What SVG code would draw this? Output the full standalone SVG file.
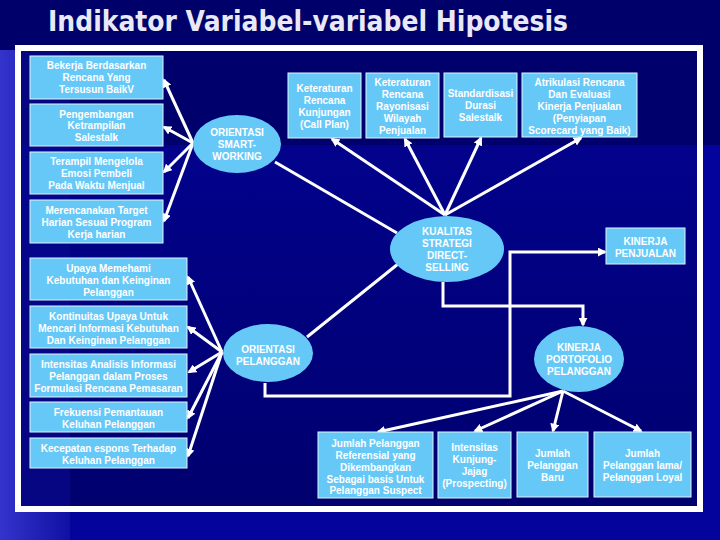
<svg xmlns="http://www.w3.org/2000/svg" width="720" height="540" viewBox="0 0 720 540">
<defs>
<style>
.bx{fill:#66c8f7;stroke:#dff3ff;stroke-width:1}
.el{fill:#66c8f7;stroke:none}
.t{font-family:"Liberation Sans",Arial,sans-serif;font-weight:bold;font-size:10px;fill:#ffffff;text-anchor:middle}
.c{fill:none;stroke:#ffffff;stroke-width:3}
.a{marker-end:url(#ah)}
</style>
<marker id="ah" viewBox="0 0 10 10" refX="8" refY="5" markerWidth="9" markerHeight="9" markerUnits="userSpaceOnUse" orient="auto">
<path d="M0,0 L10,5 L0,10 z" fill="#ffffff"/>
</marker>
<linearGradient id="lb" x1="0" y1="0" x2="1" y2="0">
<stop offset="0" stop-color="#3434cc"/>
<stop offset="1" stop-color="#1010a4"/>
</linearGradient>
<linearGradient id="bt" x1="0" y1="0" x2="0" y2="1">
<stop offset="0" stop-color="#02028c"/>
<stop offset="1" stop-color="#00006e"/>
</linearGradient>
</defs>

<g id="background">
<rect x="0" y="0" width="720" height="540" fill="#00006a"/>
<rect x="0" y="145" width="720" height="395" fill="#04049c"/>
<rect x="0" y="50" width="70" height="490" fill="url(#lb)"/>
<rect x="21" y="51" width="676" height="455" fill="#00006c"/>
<rect x="21" y="145" width="676" height="361" fill="url(#bt)"/>
<rect x="21" y="51" width="49" height="455" fill="#0a0a90" opacity="0.6"/>
<rect x="18" y="48" width="682" height="461" fill="none" stroke="#ffffff" stroke-width="6"/>
</g>

<text x="308" y="31" font-family="Tahoma,'DejaVu Sans','Liberation Sans',sans-serif" font-weight="bold" font-size="28" fill="#e8e8f6" text-anchor="middle" textLength="520" lengthAdjust="spacingAndGlyphs">Indikator Variabel-variabel Hipotesis</text>

<g id="connectors">
<line class="c a" x1="193" y1="143" x2="164" y2="80"/>
<line class="c a" x1="193" y1="143" x2="164" y2="127"/>
<line class="c a" x1="193" y1="143" x2="164" y2="172"/>
<line class="c a" x1="193" y1="143" x2="164" y2="221"/>
<line class="c" x1="275" y1="162" x2="397" y2="233"/>
<line class="c a" x1="445" y1="215" x2="332" y2="139"/>
<line class="c a" x1="445" y1="215" x2="405" y2="139"/>
<line class="c a" x1="445" y1="215" x2="481" y2="138"/>
<line class="c a" x1="445" y1="215" x2="581" y2="138"/>
<polyline class="c a" points="443,282 443,306 583,306 583,325"/>
<polyline class="c a" points="265,383 265,396 510,396 510,252 605,252"/>
<line class="c" x1="307" y1="337" x2="398" y2="264"/>
<line class="c a" x1="222" y1="352" x2="188" y2="277"/>
<line class="c a" x1="222" y1="352" x2="188" y2="327"/>
<line class="c a" x1="222" y1="352" x2="189" y2="372"/>
<line class="c a" x1="222" y1="352" x2="188" y2="418"/>
<line class="c a" x1="222" y1="352" x2="188" y2="456"/>
<line class="c a" x1="563" y1="391" x2="378" y2="432"/>
<line class="c a" x1="563" y1="391" x2="475" y2="431"/>
<line class="c a" x1="563" y1="391" x2="553" y2="431"/>
<line class="c a" x1="563" y1="391" x2="641" y2="431"/>
</g>

<g id="n-bekerja"><rect class="bx" x="30" y="56" width="133" height="43"/>
<text class="t" x="96.5" y="68.5">Bekerja Berdasarkan</text><text class="t" x="96.5" y="80.5">Rencana Yang</text><text class="t" x="96.5" y="92.5">Tersusun BaikV</text></g>
<g id="n-pengembangan"><rect class="bx" x="30" y="104" width="133" height="42"/>
<text class="t" x="96.5" y="117.5">Pengembangan</text><text class="t" x="96.5" y="129">Ketrampilan</text><text class="t" x="96.5" y="140.5">Salestalk</text></g>
<g id="n-terampil"><rect class="bx" x="30" y="152" width="133" height="42"/>
<text class="t" x="96.5" y="164.5">Terampil Mengelola</text><text class="t" x="96.5" y="176.5">Emosi Pembeli</text><text class="t" x="96.5" y="188.5">Pada Waktu Menjual</text></g>
<g id="n-merencanakan"><rect class="bx" x="30" y="200" width="133" height="43"/>
<text class="t" x="96.5" y="213.5">Merencanakan Target</text><text class="t" x="96.5" y="225.5">Harian Sesuai Program</text><text class="t" x="96.5" y="237.5">Kerja harian</text></g>
<g id="n-upaya"><rect class="bx" x="30" y="258" width="157" height="42"/>
<text class="t" x="108.5" y="271.5">Upaya Memehami</text><text class="t" x="108.5" y="283.5">Kebutuhan dan Keinginan</text><text class="t" x="108.5" y="295.5">Pelanggan</text></g>
<g id="n-kontinuitas"><rect class="bx" x="30" y="306" width="157" height="42"/>
<text class="t" x="108.5" y="319.5">Kontinuitas Upaya Untuk</text><text class="t" x="108.5" y="331.5">Mencari Informasi Kebutuhan</text><text class="t" x="108.5" y="343.5">Dan Keinginan Pelanggan</text></g>
<g id="n-intensitas-analisis"><rect class="bx" x="30" y="354" width="157" height="43"/>
<text class="t" x="108.5" y="367.5">Intensitas Analisis Informasi</text><text class="t" x="108.5" y="379.5">Pelanggan dalam Proses</text><text class="t" x="108.5" y="391.5">Formulasi Rencana Pemasaran</text></g>
<g id="n-frekuensi"><rect class="bx" x="30" y="402" width="157" height="30"/>
<text class="t" x="108.5" y="415.5">Frekuensi Pemantauan</text><text class="t" x="108.5" y="427.5">Keluhan Pelanggan</text></g>
<g id="n-kecepatan"><rect class="bx" x="30" y="438" width="157" height="30"/>
<text class="t" x="108.5" y="451.5">Kecepatan espons Terhadap</text><text class="t" x="108.5" y="463.5">Keluhan Pelanggan</text></g>

<g id="n-smart"><ellipse class="el" cx="237" cy="144" rx="44" ry="29"/>
<text class="t" x="237" y="135.5">ORIENTASI</text><text class="t" x="237" y="147.5">SMART-</text><text class="t" x="237" y="159.5">WORKING</text></g>

<g id="n-callplan"><rect class="bx" x="288" y="73" width="73" height="65"/>
<text class="t" x="324.5" y="91.5">Keteraturan</text><text class="t" x="324.5" y="103.5">Rencana</text><text class="t" x="324.5" y="115.5">Kunjungan</text><text class="t" x="324.5" y="127.5">(Call Plan)</text></g>
<g id="n-rayonisasi"><rect class="bx" x="366" y="73" width="73" height="65"/>
<text class="t" x="402.5" y="85.5">Keteraturan</text><text class="t" x="402.5" y="97.5">Rencana</text><text class="t" x="402.5" y="109.5">Rayonisasi</text><text class="t" x="402.5" y="121.5">Wilayah</text><text class="t" x="402.5" y="133.5">Penjualan</text></g>
<g id="n-standardisasi"><rect class="bx" x="444" y="73" width="73" height="64"/>
<text class="t" x="480.5" y="96.5">Standardisasi</text><text class="t" x="480.5" y="108.5">Durasi</text><text class="t" x="480.5" y="120.5">Salestalk</text></g>
<g id="n-atrikulasi"><rect class="bx" x="522" y="73" width="115" height="64"/>
<text class="t" x="579.5" y="85.5">Atrikulasi Rencana</text><text class="t" x="579.5" y="97.5">Dan Evaluasi</text><text class="t" x="579.5" y="109.5">Kinerja Penjualan</text><text class="t" x="579.5" y="121.5">(Penyiapan</text><text class="t" x="579.5" y="133.5">Scorecard yang Baik)</text></g>

<g id="n-kualitas"><ellipse class="el" cx="447" cy="249" rx="57" ry="33"/>
<text class="t" x="447" y="234.5">KUALITAS</text><text class="t" x="447" y="246.5">STRATEGI</text><text class="t" x="447" y="258.5">DIRECT-</text><text class="t" x="447" y="270.5">SELLING</text></g>

<g id="n-kinerja-penjualan"><rect class="bx" x="606" y="228" width="79" height="36"/>
<text class="t" x="645.5" y="244.5">KINERJA</text><text class="t" x="645.5" y="256.5">PENJUALAN</text></g>

<g id="n-orientasi-pelanggan"><ellipse class="el" cx="268" cy="353" rx="45" ry="29"/>
<text class="t" x="268" y="352.5">ORIENTASI</text><text class="t" x="268" y="364.5">PELANGGAN</text></g>

<g id="n-kinerja-portofolio"><ellipse class="el" cx="579" cy="359" rx="45" ry="33"/>
<text class="t" x="579" y="350.5">KINERJA</text><text class="t" x="579" y="362.5">PORTOFOLIO</text><text class="t" x="579" y="374.5">PELANGGAN</text></g>

<g id="n-referensial"><rect class="bx" x="318" y="432" width="115" height="66"/>
<text class="t" x="375.5" y="446.5">Jumlah Pelanggan</text><text class="t" x="375.5" y="458.5">Referensial yang</text><text class="t" x="375.5" y="470.5">Dikembangkan</text><text class="t" x="375.5" y="482.5">Sebagai basis Untuk</text><text class="t" x="375.5" y="494">Pelanggan Suspect</text></g>
<g id="n-prospecting"><rect class="bx" x="438" y="432" width="73" height="66"/>
<text class="t" x="474.5" y="450.5">Intensitas</text><text class="t" x="474.5" y="462.5">Kunjung-</text><text class="t" x="474.5" y="474.5">Jajag</text><text class="t" x="474.5" y="486.5">(Prospecting)</text></g>
<g id="n-baru"><rect class="bx" x="517" y="432" width="71" height="65"/>
<text class="t" x="552.5" y="456.5">Jumlah</text><text class="t" x="552.5" y="468.5">Pelanggan</text><text class="t" x="552.5" y="480.5">Baru</text></g>
<g id="n-loyal"><rect class="bx" x="594" y="432" width="97" height="65"/>
<text class="t" x="642.5" y="456.5">Jumlah</text><text class="t" x="642.5" y="468.5">Pelanggan lama/</text><text class="t" x="642.5" y="480.5">Pelanggan Loyal</text></g>
</svg>
